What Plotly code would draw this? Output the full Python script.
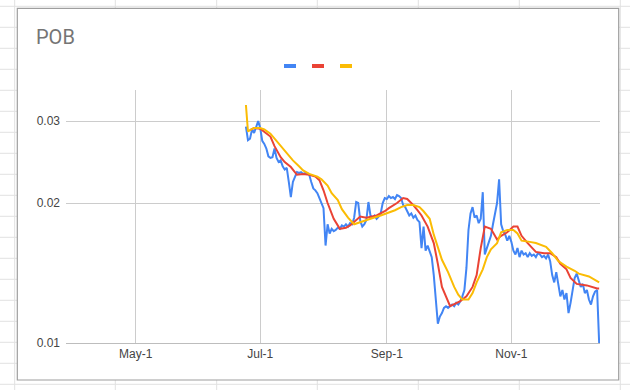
import math
import pandas as pd
import plotly.graph_objects as go

# ---------------- data ----------------
start_date = "2021-06-24"
blue_values = [
    0.0292, 0.0273, 0.0275, 0.0288, 0.0283, 0.0293, 0.0300, 0.0290, 0.0272, 0.0268,
    0.0262, 0.0252, 0.0250, 0.0251, 0.0262, 0.0250, 0.0245, 0.0247, 0.0240, 0.0236,
    0.0238, 0.0222, 0.0206, 0.0222, 0.0228, 0.0233, 0.0232, 0.0233, 0.0231, 0.0232,
    0.0232, 0.0230, 0.0222, 0.0215, 0.0213, 0.0210, 0.0205, 0.0200, 0.0195, 0.0162,
    0.0180, 0.0172, 0.0176, 0.0174, 0.0175, 0.0177, 0.0176, 0.0179, 0.0178, 0.0180,
    0.0178, 0.0181, 0.0180, 0.0186, 0.0201, 0.0200, 0.0183, 0.0178, 0.0180, 0.0184,
    0.0201, 0.0188, 0.0186, 0.0188, 0.0185, 0.0187, 0.0190, 0.0200, 0.0205, 0.0204,
    0.0207, 0.0205, 0.0206, 0.0204, 0.0208, 0.0207, 0.0205, 0.0198, 0.0196, 0.0192,
    0.0188, 0.0190, 0.0186, 0.0188, 0.0184, 0.0182, 0.0160, 0.0178, 0.0158, 0.0162,
    0.0158, 0.0153, 0.0140, 0.0125, 0.0110, 0.0114, 0.0116, 0.0119, 0.0120, 0.0119,
    0.0120, 0.0121, 0.0120, 0.0122, 0.0121, 0.0123, 0.0126, 0.0130, 0.0145, 0.0175,
    0.0190, 0.0196, 0.0186, 0.0188, 0.0181, 0.0185, 0.0211, 0.0155, 0.0160, 0.0165,
    0.0170, 0.0180, 0.0190, 0.0200, 0.0225, 0.0180, 0.0174, 0.0171, 0.0166, 0.0170,
    0.0165, 0.0158, 0.0155, 0.0160, 0.0153, 0.0158, 0.0155, 0.0156, 0.0153, 0.0156,
    0.0154, 0.0155, 0.0153, 0.0156, 0.0155, 0.0153, 0.0154, 0.0152, 0.0155, 0.0150,
    0.0140, 0.0135, 0.0142, 0.0132, 0.0126, 0.0130, 0.0124, 0.0128, 0.0116, 0.0122,
    0.0130, 0.0138, 0.0141, 0.0137, 0.0132, 0.0134, 0.0128, 0.0130, 0.0124, 0.0121,
    0.0126, 0.0129, 0.0130, 0.0100,
]

red_days = [2, 4, 7, 9, 12, 14, 17, 19, 22, 25, 28, 31, 34, 36, 38, 40, 43, 46, 49, 51,
            53, 56, 59, 64, 68, 70, 74, 77, 79, 82, 84, 86, 89, 92, 94, 96, 100, 102, 105, 108,
            111, 113, 115, 117, 120, 123, 125, 128, 131, 133, 135, 138, 140, 142, 146, 149, 152, 154, 157, 159,
            162, 167, 172, 173]
red_values = [0.0287, 0.0290, 0.0289, 0.0285, 0.0278, 0.0265, 0.0251, 0.0245, 0.0239, 0.0230,
              0.0231, 0.0230, 0.0228, 0.0224, 0.0213, 0.0200, 0.0185, 0.0176, 0.0177, 0.0179,
              0.0182, 0.0187, 0.0186, 0.0188, 0.0192, 0.0195, 0.0200, 0.0205, 0.0204, 0.0198,
              0.0193, 0.0188, 0.0178, 0.0164, 0.0148, 0.0132, 0.0120, 0.0121, 0.0123, 0.0126,
              0.0132, 0.0140, 0.0160, 0.0178, 0.0176, 0.0167, 0.0170, 0.0173, 0.0178, 0.0178,
              0.0170, 0.0164, 0.0160, 0.0157, 0.0156, 0.0156, 0.0153, 0.0148, 0.0144, 0.0138,
              0.0134, 0.0133, 0.0131, 0.0131]

yellow_days = [0, 1, 2, 4, 7, 9, 12, 15, 18, 21, 23, 26, 28, 31, 35, 37, 40, 42, 45, 47,
               50, 53, 56, 61, 66, 69, 73, 76, 79, 82, 85, 87, 90, 92, 94, 96, 99, 102, 104, 106,
               109, 111, 113, 116, 118, 120, 123, 125, 128, 131, 133, 135, 139, 142, 147, 150, 153, 157, 161, 163,
               168, 172, 173]
yellow_values = [0.0325, 0.0285, 0.0287, 0.0290, 0.0290, 0.0288, 0.0282, 0.0272, 0.0262, 0.0254,
                 0.0247, 0.0240, 0.0235, 0.0231, 0.0228, 0.0225, 0.0218, 0.0210, 0.0203, 0.0194,
                 0.0186, 0.0180, 0.0182, 0.0185, 0.0188, 0.0190, 0.0193, 0.0196, 0.0198, 0.0198,
                 0.0196, 0.0192, 0.0185, 0.0171, 0.0161, 0.0151, 0.0142, 0.0132, 0.0127, 0.0124,
                 0.0124, 0.0128, 0.0135, 0.0144, 0.0153, 0.0159, 0.0164, 0.0173, 0.0175, 0.0175,
                 0.0172, 0.0166, 0.0165, 0.0164, 0.0161, 0.0156, 0.0150, 0.0146, 0.0143, 0.0141,
                 0.0139, 0.0136, 0.0135]

x_tick_dates = ["2021-05-01", "2021-07-01", "2021-09-01", "2021-11-01"]
x_tick_labels = ["May-1", "Jul-1", "Sep-1", "Nov-1"]
y_tick_values = [0.01, 0.02, 0.03]
y_tick_labels = ["0.01", "0.02", "0.03"]

title_text = "POB"
colors = ["#4285F4", "#EA4335", "#FBBC04"]

# ---------------- build ----------------
t0 = pd.Timestamp(start_date)
blue_dates = [t0 + pd.Timedelta(days=i) for i in range(len(blue_values))]
red_dates = [t0 + pd.Timedelta(days=d) for d in red_days]
yellow_dates = [t0 + pd.Timedelta(days=d) for d in yellow_days]

W, H = 630, 390
L, R, T, B = 66, 600, 90, 343
PW, PH = R - L, B - T


def px(x):
    return (x - L) / PW


def py(y):
    return (B - y) / PH


fig = go.Figure()
fig.add_trace(go.Scatter(x=blue_dates, y=blue_values, mode="lines",
                         line=dict(color=colors[0], width=2), name=" "))
fig.add_trace(go.Scatter(x=red_dates, y=red_values, mode="lines",
                         line=dict(color=colors[1], width=2), name=" "))
fig.add_trace(go.Scatter(x=yellow_dates, y=yellow_values, mode="lines",
                         line=dict(color=colors[2], width=2), name=" "))

shapes = []
grid_col = "#e1e1e1"
# spreadsheet grid (behind chart box)
for gx in [14.7, 115.3, 216.7, 317.3, 418.3, 519.3, 620.3]:
    shapes.append(dict(type="line", xref="paper", yref="paper", layer="below",
                       x0=px(gx), x1=px(gx), y0=py(0), y1=py(H),
                       line=dict(color=grid_col, width=1)))
for n in range(19):
    gy = 6.3 + 21 * n
    shapes.append(dict(type="line", xref="paper", yref="paper", layer="below",
                       x0=px(0), x1=px(W), y0=py(gy), y1=py(gy),
                       line=dict(color=grid_col, width=1)))
# chart box
shapes.append(dict(type="rect", xref="paper", yref="paper", layer="below",
                   x0=px(17.3), x1=px(618.7), y0=py(380), y1=py(8.3),
                   fillcolor="white", line=dict(color="#9e9e9e", width=1.2)))
# legend swatches (no labels)
for i, lx in enumerate([284, 312, 340]):
    shapes.append(dict(type="rect", xref="paper", yref="paper", layer="above",
                       x0=px(lx), x1=px(lx + 12), y0=py(68), y1=py(64),
                       fillcolor=colors[i], line=dict(width=0)))

fig.update_layout(
    width=W, height=H,
    margin=dict(l=L, r=W - R, t=T, b=H - B, pad=0),
    paper_bgcolor="white",
    plot_bgcolor="rgba(0,0,0,0)",
    showlegend=False,
    shapes=shapes,
    font=dict(family="Liberation Sans, Arial, sans-serif", size=12, color="#444444"),
    annotations=[dict(text=title_text, xref="paper", yref="paper",
                      x=px(34), y=py(36.5), xanchor="left", yanchor="middle",
                      showarrow=False,
                      font=dict(family="Roboto, Arial, sans-serif", size=20, color="#757575"))],
)
fig.update_xaxes(
    type="date",
    range=["2021-03-27 21:00", "2021-12-14 10:00"],
    tickvals=x_tick_dates, ticktext=x_tick_labels,
    showgrid=True, gridcolor="#cccccc", gridwidth=1,
    showline=True, linecolor="#bdbdbd", linewidth=1,
    ticks="", zeroline=False,
)
fig.update_yaxes(
    type="log",
    range=[-2, math.log10(0.035)],
    tickvals=y_tick_values, ticktext=y_tick_labels,
    showgrid=True, gridcolor="#cccccc", gridwidth=1,
    showline=False, ticks="", zeroline=False,
    ticklabelstandoff=5,
)

fig.write_html(
    "out.html",
    config={"displayModeBar": False},
    post_script="document.body.style.margin='0';document.body.style.overflow='hidden';",
)
